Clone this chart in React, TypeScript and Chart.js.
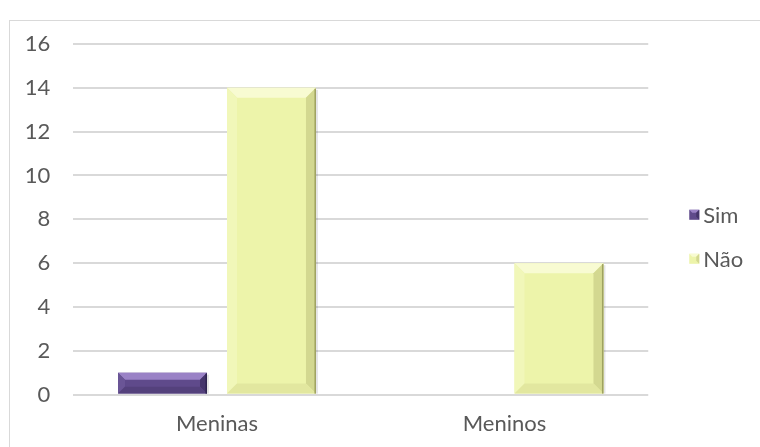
import React, { useEffect, useRef } from "react";
import { Chart, registerables } from "chart.js";

Chart.register(...registerables);

const categories = ["Meninas", "Meninos"];
const simValues = [1, 0];
const naoValues = [14, 6];
const seriesNames = ["Sim", "Não"];
const yMin = 0;
const yMax = 16;
const yStep = 2;

const FONT = "Lato, 'Open Sans', sans-serif";
const TEXT = "#595959";
const FS = 22;

const palettes = [
  { fill: "#5f4a8b", top: "#9a82c6", left: "#6a5596", right: "#45356b", bottom: "#54417c", edge: "#2f2450" },
  { fill: "#edf4aa", top: "#f8fbd2", left: "#f1f7b9", right: "#d3d890", bottom: "#e2e79f", edge: "#9ea260" },
];

const bevelPlugin = {
  id: "bevel",
  afterDatasetsDraw(chart: any) {
    const ctx = chart.ctx;
    chart.data.datasets.forEach((_: any, di: number) => {
      const meta = chart.getDatasetMeta(di);
      const pal = palettes[di];
      meta.data.forEach((bar: any) => {
        const p = bar.getProps(["x", "y", "base", "width"], true);
        const l = p.x - p.width / 2;
        const r = p.x + p.width / 2;
        const t = Math.min(p.y, p.base);
        const b = Math.max(p.y, p.base);
        const h = b - t;
        if (h < 1) return;
        const s = Math.min(10, h / 3, p.width / 4);
        ctx.save();
        ctx.fillStyle = "rgba(0,0,0,0.10)";
        ctx.fillRect(r, t + 2, 2, h - 2);
        const poly = (pts: number[][], color: string) => {
          ctx.beginPath();
          ctx.moveTo(pts[0][0], pts[0][1]);
          for (let i = 1; i < pts.length; i++) ctx.lineTo(pts[i][0], pts[i][1]);
          ctx.closePath();
          ctx.fillStyle = color;
          ctx.fill();
        };
        poly([[l, t], [r, t], [r - s, t + s], [l + s, t + s]], pal.top);
        poly([[l, t], [l + s, t + s], [l + s, b - s], [l, b]], pal.left);
        poly([[r, t], [r, b], [r - s, b - s], [r - s, t + s]], pal.right);
        poly([[l, b], [l + s, b - s], [r - s, b - s], [r, b]], pal.bottom);
        ctx.fillStyle = pal.edge;
        ctx.fillRect(r - 1.5, t + 1, 1.5, h - 1);
        ctx.restore();
      });
    });
  },
};

const legendPlugin = {
  id: "sideLegend",
  afterDraw(chart: any) {
    const ctx = chart.ctx;
    const area = chart.chartArea;
    const x = area.right + 41;
    const cy = (area.top + area.bottom) / 2 + 17.5;
    const gap = 44;
    ctx.save();
    chart.data.datasets.forEach((ds: any, i: number) => {
      const y = cy + (i - 0.5) * gap;
      const pal = palettes[i];
      const sz = 10;
      const l = x, t = y - sz / 2, r = x + sz, b = y + sz / 2;
      ctx.fillStyle = pal.fill;
      ctx.fillRect(l, t, sz, sz);
      const s = 3;
      ctx.beginPath();
      ctx.moveTo(l, t); ctx.lineTo(r, t); ctx.lineTo(r - s, t + s); ctx.lineTo(l + s, t + s); ctx.closePath();
      ctx.fillStyle = pal.top; ctx.fill();
      ctx.beginPath();
      ctx.moveTo(r, t); ctx.lineTo(r, b); ctx.lineTo(r - s, b - s); ctx.lineTo(r - s, t + s); ctx.closePath();
      ctx.fillStyle = pal.right; ctx.fill();
      ctx.fillStyle = TEXT;
      ctx.font = `${FS}px ${FONT}`;
      ctx.textBaseline = "middle";
      ctx.textAlign = "left";
      ctx.fillText(ds.label, x + sz + 4, y + 1);
    });
    ctx.restore();
  },
};

export default function App() {
  const ref = useRef<HTMLCanvasElement | null>(null);
  useEffect(() => {
    if (!ref.current) return;
    const chart = new Chart(ref.current, {
      type: "bar",
      data: {
        labels: categories,
        datasets: [
          { label: seriesNames[0], data: simValues, backgroundColor: palettes[0].fill, borderWidth: 0 },
          { label: seriesNames[1], data: naoValues, backgroundColor: palettes[1].fill, borderWidth: 0 },
        ],
      },
      options: {
        responsive: false,
        animation: false,
        events: [],
        layout: { padding: { top: 23, right: 111.75, bottom: 0, left: 0 } },
        datasets: { bar: { categoryPercentage: 0.758, barPercentage: 0.8165 } },
        plugins: { legend: { display: false }, tooltip: { enabled: false } },
        scales: {
          x: {
            grid: { display: false, drawTicks: false },
            border: { display: false },
            ticks: { color: TEXT, font: { family: FONT, size: FS }, padding: 16 },
          },
          y: {
            min: yMin,
            max: yMax,
            afterFit: (scale: any) => { scale.width = 63.25; },
            grid: {
              color: "#d9d9d9",
              lineWidth: 2,
              drawTicks: true,
              tickLength: 23,
              tickColor: "rgba(0,0,0,0)",
            },
            border: { display: false },
            ticks: { stepSize: yStep, color: TEXT, font: { family: FONT, size: FS }, padding: 0 },
          },
        },
      },
      plugins: [bevelPlugin, legendPlugin],
    });
    return () => chart.destroy();
  }, []);
  return (
    <div
      style={{
        position: "fixed",
        left: 9,
        top: 20,
        width: 780,
        height: 480,
        border: "1px solid #d9d9d9",
        boxSizing: "border-box",
        background: "#fff",
      }}
    >
      <canvas ref={ref} width={750} height={432} style={{ display: "block" }} />
    </div>
  );
}
